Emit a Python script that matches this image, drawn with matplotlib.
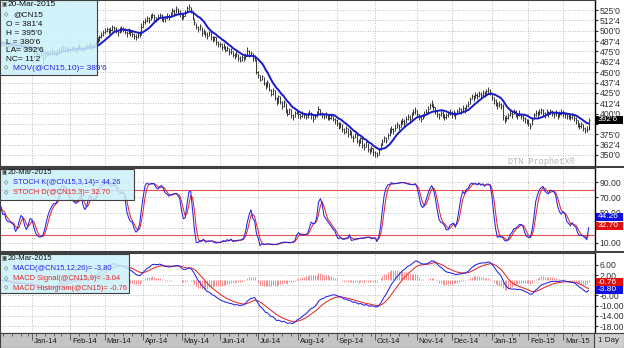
import numpy as np
import pandas as pd
import matplotlib
matplotlib.use("Agg")
import matplotlib.pyplot as plt
import matplotlib.transforms as mtransforms
from matplotlib.patches import Rectangle
from matplotlib.ticker import FuncFormatter

plt.rcParams["font.family"] = ["Liberation Sans", "DejaVu Sans"]

# CN15 daily bars (high / low / close), one list per month
hi_dec13 = [489, 488, 487, 486, 485, 486, 485, 483, 482, 484, 486, 485, 483, 481, 482, 484, 483]
lo_dec13 = [482, 481, 481, 480, 479, 480, 478, 477, 476, 477, 479, 479, 477, 475, 476, 477, 477]
cl_dec13 = [486, 484, 485, 483, 482, 484, 481, 480, 479, 481, 483, 482, 480, 478, 479, 481, 480]

hi_jan14 = [481, 479, 477, 475, 473, 474, 473, 473, 476, 475, 477, 479, 477, 475, 478, 480, 481, 483, 481, 479, 481]
lo_jan14 = [475, 472, 471, 469, 467, 468, 460, 466, 469, 469, 471, 473, 471, 469, 471, 474, 475, 477, 475, 473, 475]
cl_jan14 = [478, 475, 474, 472, 470, 471, 466, 470, 473, 472, 474, 476, 474, 472, 475, 477, 478, 480, 478, 476, 478]

hi_feb14 = [480, 482, 481, 479, 483, 484, 482, 480, 483, 485, 484, 486, 484, 485, 489, 492, 495, 498, 501]
lo_feb14 = [474, 475, 475, 473, 476, 478, 476, 474, 477, 478, 478, 479, 477, 479, 481, 485, 488, 491, 494]
cl_feb14 = [477, 479, 478, 476, 480, 481, 479, 477, 480, 482, 481, 483, 480, 482, 486, 489, 492, 495, 498]

hi_mar14 = [503, 505, 503, 504, 507, 506, 504, 501, 504, 506, 505, 503, 500, 503, 501, 499, 497, 496, 498, 500, 509]
lo_mar14 = [496, 498, 496, 497, 500, 500, 497, 494, 497, 499, 499, 496, 493, 496, 494, 492, 490, 489, 491, 493, 495]
cl_mar14 = [500, 502, 499, 501, 504, 503, 500, 498, 501, 503, 502, 499, 497, 500, 498, 496, 494, 493, 495, 497, 505]

hi_apr14 = [513, 515, 518, 516, 520, 522, 520, 517, 520, 522, 520, 517, 518, 521, 520, 523, 528, 526, 530, 528, 525]
lo_apr14 = [505, 508, 511, 509, 513, 515, 512, 510, 513, 515, 512, 510, 511, 514, 513, 516, 520, 518, 522, 520, 517]
cl_apr14 = [510, 512, 515, 513, 517, 519, 516, 514, 517, 519, 516, 514, 515, 518, 517, 520, 524, 522, 526, 524, 521]

hi_may14 = [521, 521, 525, 530, 532, 529, 524, 514, 509, 506, 508, 505, 502, 500, 498, 500, 498, 494, 494, 492, 488]
lo_may14 = [513, 514, 518, 523, 525, 521, 513, 507, 502, 499, 501, 494, 496, 492, 490, 494, 489, 486, 488, 483, 480]
cl_may14 = [516, 518, 522, 527, 529, 525, 515, 510, 505, 502, 506, 497, 500, 496, 494, 498, 493, 490, 492, 486, 484]

hi_jun14 = [487, 485, 485, 482, 482, 479, 479, 476, 473, 475, 472, 469, 471, 470, 473, 480, 477, 476, 473, 471, 466]
lo_jun14 = [480, 477, 478, 474, 475, 471, 472, 468, 466, 468, 464, 462, 464, 463, 466, 470, 468, 469, 464, 464, 448]
cl_jun14 = [484, 480, 482, 477, 479, 474, 476, 471, 469, 472, 467, 465, 468, 466, 470, 476, 471, 473, 467, 468, 450]

hi_jul14 = [451, 447, 447, 444, 438, 440, 437, 430, 431, 428, 420, 423, 421, 415, 416, 413, 405, 407, 405, 400, 403, 406]
lo_jul14 = [443, 439, 440, 435, 430, 432, 427, 421, 423, 416, 410, 413, 411, 406, 408, 401, 397, 400, 395, 392, 396, 399]
cl_jul14 = [446, 441, 445, 437, 433, 438, 429, 424, 429, 419, 413, 421, 414, 409, 414, 404, 400, 405, 398, 396, 401, 403]

hi_aug14 = [403, 400, 403, 401, 399, 402, 404, 402, 398, 400, 403, 409, 406, 402, 400, 402, 399, 398, 400, 397, 395]
lo_aug14 = [395, 394, 396, 395, 393, 395, 398, 394, 390, 393, 396, 400, 398, 395, 394, 395, 392, 392, 393, 391, 388]
cl_aug14 = [399, 397, 400, 398, 396, 399, 401, 398, 394, 397, 400, 406, 401, 398, 397, 399, 396, 395, 397, 394, 392]

hi_sep14 = [393, 390, 390, 388, 383, 385, 383, 381, 379, 374, 377, 375, 369, 372, 370, 364, 367, 365, 359, 361, 358]
lo_sep14 = [385, 381, 383, 378, 375, 377, 372, 374, 370, 366, 370, 364, 361, 365, 359, 356, 360, 354, 351, 354, 349]
cl_sep14 = [389, 384, 388, 381, 378, 383, 375, 379, 372, 370, 375, 367, 365, 370, 362, 360, 366, 357, 355, 359, 353]

hi_oct14 = [355, 354, 359, 365, 369, 373, 372, 377, 382, 385, 383, 387, 390, 388, 392, 395, 393, 397, 400, 398, 402, 406, 408]
lo_oct14 = [348, 347, 350, 356, 362, 366, 364, 369, 373, 377, 375, 379, 382, 380, 384, 387, 385, 389, 392, 390, 394, 398, 400]
cl_oct14 = [352, 350, 356, 362, 366, 370, 368, 374, 378, 381, 379, 383, 386, 384, 388, 391, 389, 393, 396, 394, 398, 402, 404]

hi_nov14 = [404, 400, 398, 400, 403, 405, 409, 413, 416, 412, 408, 404, 401, 404, 403, 399, 401, 403, 405]
lo_nov14 = [396, 392, 390, 393, 396, 398, 401, 405, 408, 404, 400, 396, 394, 397, 395, 392, 394, 396, 398]
cl_nov14 = [399, 396, 394, 397, 400, 402, 405, 410, 412, 408, 404, 400, 398, 401, 399, 396, 398, 400, 402]

hi_dec14 = [403, 404, 402, 406, 408, 407, 410, 408, 412, 415, 420, 424, 423, 426, 425, 427, 426, 428, 427, 430, 432, 430]
lo_dec14 = [395, 397, 394, 399, 401, 400, 403, 401, 405, 408, 412, 417, 415, 419, 418, 420, 419, 421, 420, 423, 425, 422]
cl_dec14 = [399, 401, 398, 403, 405, 403, 407, 405, 409, 412, 417, 421, 419, 423, 421, 424, 422, 425, 423, 427, 429, 426]

hi_jan15 = [425, 420, 417, 414, 415, 413, 411, 397, 398, 401, 404, 403, 406, 404, 401, 404, 401, 398, 396, 394]
lo_jan15 = [416, 412, 409, 406, 408, 405, 392, 389, 391, 394, 397, 395, 399, 396, 394, 397, 393, 391, 389, 387]
cl_jan15 = [420, 416, 413, 410, 412, 409, 398, 393, 395, 398, 401, 399, 403, 400, 398, 401, 397, 395, 393, 391]

hi_feb15 = [393, 389, 395, 401, 404, 403, 405, 407, 405, 402, 405, 403, 406, 404, 402, 404, 401, 403, 405]
lo_feb15 = [385, 381, 386, 393, 397, 396, 398, 400, 397, 395, 398, 396, 399, 397, 395, 397, 394, 396, 398]
cl_feb15 = [389, 385, 392, 398, 401, 399, 402, 404, 401, 399, 402, 400, 403, 401, 399, 401, 398, 400, 402]

hi_mar15 = [404, 402, 401, 401, 400, 401, 399, 396, 392, 389, 390, 387, 384, 385, 395]
lo_mar15 = [396, 395, 393, 394, 392, 394, 391, 388, 384, 381, 383, 379, 377, 378, 380.75]
cl_mar15 = [400, 399, 397, 398, 396, 398, 395, 392, 388, 385, 387, 383, 380, 381.5, 392.75]

holidays = ["2013-12-25", "2014-01-01", "2014-01-20", "2014-02-17", "2014-04-18",
            "2014-05-26", "2014-07-04", "2014-09-01", "2014-11-27", "2014-12-25",
            "2015-01-01", "2015-01-19", "2015-02-16"]

price_ticks = [350, 362.5, 375, 387.5, 400, 412.5, 425, 437.5, 450, 462.5, 475, 487.5, 500, 512.5, 525]
stoch_ticks = [10, 30, 50, 70, 90]
stoch_bands = [20, 80]
macd_ticks = [-18, -14, -10, -6, -2, 2, 6]
# tick labels that sit under the last-value boxes in the reference
hidden_ticks = [387.5, 30, -2]

top_legend = ["@CN15", "O = 381'4", "H = 395'0", "L = 380'6", "LA= 392'6", "NC= 11'2"]
mov_label = "MOV(@CN15,10)= 389'6"
last_price = "392'6"
stoch_labels = ["STOCH K(@CN15,3,14)= 44.26", "STOCH D(@CN15,3)= 32.70"]
stoch_last = [44.26, 32.70]
macd_labels = ["MACD(@CN15,12,26)= -3.80", "MACD Signal(@CN15,9)= -3.04", "MACD Histogram(@CN15)= -0.76"]
macd_last = [-3.80, -3.04, -0.76]

months = ["dec13", "jan14", "feb14", "mar14", "apr14", "may14", "jun14", "jul14",
          "aug14", "sep14", "oct14", "nov14", "dec14", "jan15", "feb15", "mar15"]
g = globals()
highs = np.array(sum([g["hi_" + m] for m in months], []), dtype=float)
lows = np.array(sum([g["lo_" + m] for m in months], []), dtype=float)
closes = np.array(sum([g["cl_" + m] for m in months], []), dtype=float)

dates = pd.bdate_range("2013-12-06", "2015-03-20", freq="C", holidays=holidays)
x = np.arange(len(dates))

# indicators
c = pd.Series(closes)
ma10 = c.rolling(10, min_periods=1).mean()
hh = pd.Series(highs).rolling(14, min_periods=1).max()
ll = pd.Series(lows).rolling(14, min_periods=1).min()
fast_k = 100 * (c - ll) / (hh - ll)
stoch_k = fast_k.rolling(3, min_periods=1).mean()
stoch_d = stoch_k.rolling(3, min_periods=1).mean()
macd = c.ewm(span=12, adjust=False).mean() - c.ewm(span=26, adjust=False).mean()
signal = macd.ewm(span=9, adjust=False).mean()
hist = macd - signal

W, H = 624, 348
BLUE = "#2424e6"
RED = "#e22a2a"
GRID = "#a8a8a8"


def box(y0, y1, x0=0, x1=595):
    return [x0 / W, 1 - y1 / H, (x1 - x0) / W, (y1 - y0) / H]


def fx(px):
    return px / W


def fy(py):
    return 1 - py / H


def eighths(p, pos=None):
    if any(abs(p - h) < 1e-6 for h in hidden_ticks):
        return ""
    whole = int(np.floor(p + 1e-9))
    return f"{whole}'{int(round((p - whole) * 8))}"


def two_dec(v, pos=None):
    if any(abs(v - h) < 1e-6 for h in hidden_ticks):
        return ""
    return f"{v:.2f}"


fig = plt.figure(figsize=(6.24, 3.48), dpi=100)
ax1 = fig.add_axes(box(0, 166))
ax2 = fig.add_axes(box(168, 251))
ax3 = fig.add_axes(box(253, 333))
ax4 = fig.add_axes(box(333, 348))

month_starts = [i for i in range(1, len(dates)) if dates[i].month != dates[i - 1].month]
week_starts = [i for i in range(1, len(dates)) if dates[i].weekday() < dates[i - 1].weekday()]

for ax, ticks in [(ax1, price_ticks), (ax2, stoch_ticks), (ax3, macd_ticks)]:
    ax.set_xlim(-0.5, 325.5)
    ax.set_xticks([])
    ax.yaxis.tick_right()
    ax.set_yticks(ticks)
    ax.tick_params(axis="y", labelsize=6.2, length=2, pad=1.5, colors="#303030")
    for t in ticks:
        ax.axhline(t, color=GRID, lw=0.6, ls=(0, (1, 2)), zorder=0)
    for m in month_starts:
        ax.axvline(m, color=GRID, lw=0.6, ls=(0, (1, 2)), zorder=0)
    for s in ax.spines.values():
        s.set_color("#404040")
        s.set_linewidth(0.8)
    ax.spines["right"].set_color("black")
    ax.spines["right"].set_linewidth(1.0)

# price panel
ax1.set_ylim(336.7, 537.1)
ax1.yaxis.set_major_formatter(FuncFormatter(eighths))
ax1.vlines(x, lows, highs, color="#363636", lw=0.7, zorder=2)
ax1.hlines(closes, x, x + 0.6, color="#363636", lw=0.7, zorder=2)
ax1.plot(x, ma10, color="#1a1acc", lw=1.4, zorder=3)

# stochastics panel
ax2.set_ylim(-0.5, 108.4)
ax2.yaxis.set_major_formatter(FuncFormatter(two_dec))
for b in stoch_bands:
    ax2.axhline(b, color="#e05050", lw=0.8, zorder=1)
ax2.plot(x, stoch_d, color=RED, lw=0.75, zorder=2)
ax2.plot(x, stoch_k, color=BLUE, lw=0.75, zorder=3)

# MACD panel
ax3.set_ylim(-20.75, 10.7)
ax3.yaxis.set_major_formatter(FuncFormatter(two_dec))
ax3.vlines(x, 0, hist, color="#f06060", lw=0.5, zorder=1)
ax3.plot(x, signal, color=RED, lw=0.75, zorder=2)
ax3.plot(x, macd, color=BLUE, lw=0.75, zorder=3)

# date strip
ax4.set_facecolor("#c4c4c4")
ax4.set_xlim(-0.5, 325.5)
ax4.set_ylim(0, 1)
ax4.set_yticks([])
ax4.set_xticks(month_starts)
ax4.set_xticks(week_starts, minor=True)
ax4.tick_params(axis="x", which="both", direction="in", top=True, bottom=False,
                labelbottom=False, colors="#505050", width=0.6)
ax4.tick_params(axis="x", which="major", length=5)
ax4.tick_params(axis="x", which="minor", length=2)
for s in ax4.spines.values():
    s.set_color("#404040")
    s.set_linewidth(0.8)
strip_tr = mtransforms.blended_transform_factory(ax4.transData, ax4.transAxes)
for m in month_starts:
    ax4.text(m + 1.0, 0.42, dates[m].strftime("%b-%y"), transform=strip_tr,
             fontsize=5.6, color="#202020", ha="left", va="center")

fig.patches.append(Rectangle((fx(594), fy(348)), 30 / W, 15 / H, transform=fig.transFigure,
                             fc="#cfcfcf", ec="#404040", lw=0.8))
fig.text(fx(609), fy(341), "1 Day", fontsize=5.8, ha="center", va="center", color="#202020")

# panel separators
for y0 in [166, 251]:
    fig.patches.append(Rectangle((0, fy(y0 + 2)), 1, 2 / H, transform=fig.transFigure,
                                 fc="#404040", ec="none"))

# legend boxes
LEG_FC = (0.80, 0.95, 0.98, 0.85)
fig.patches.append(Rectangle((0, fy(75)), 97 / W, 75 / H, transform=fig.transFigure,
                             fc=LEG_FC, ec="#404040", lw=0.8))
fig.patches.append(Rectangle((0, fy(200)), 134 / W, 31 / H, transform=fig.transFigure,
                             fc=LEG_FC, ec="#404040", lw=0.8))
fig.patches.append(Rectangle((0, fy(293)), 129 / W, 39 / H, transform=fig.transFigure,
                             fc=LEG_FC, ec="#404040", lw=0.8))

ICON = ["DejaVu Sans"]


def legend_title(ytop, fs):
    fig.text(fx(1), fy(ytop), "\u25a3", fontsize=4.0, family=ICON, va="center", color="#404040")
    fig.text(fx(8), fy(ytop), "20-Mar-2015", fontsize=fs, va="center", color="#101010")


def legend_row(ypos, label, color, fs, marker=True, xt=13):
    if marker:
        fig.text(fx(4), fy(ypos), "\u25c7", fontsize=4.0, family=ICON, va="center", color="#202020")
    fig.text(fx(xt), fy(ypos), label, fontsize=fs, va="center", color=color)


legend_title(5, 6.0)
legend_row(15, top_legend[0], "#101010", 6.0)
for k, lab in enumerate(top_legend[1:]):
    legend_row(24.5 + 8.8 * k, lab, "#101010", 6.0, marker=False, xt=6)
legend_row(68, mov_label, BLUE, 6.0)

legend_title(173, 5.6)
legend_row(183, stoch_labels[0], BLUE, 5.4)
legend_row(193, stoch_labels[1], RED, 5.4)

legend_title(259, 5.6)
legend_row(269, macd_labels[0], BLUE, 5.4)
legend_row(279, macd_labels[1], RED, 5.4)
legend_row(288, macd_labels[2], RED, 5.4)

# watermark
fig.text(fx(508), fy(161), "DTN ProphetX\u00ae", fontsize=6.2,
         family=["Liberation Mono", "DejaVu Sans Mono"], color="#b4b4b4", va="center")


# last-value boxes on the right scale
def value_box(ax, val, label, fc):
    ypix = ax.transData.transform((0, val))[1]
    fig.patches.append(Rectangle((fx(596), (ypix - 4) / H), 27 / W, 8 / H,
                                 transform=fig.transFigure, fc=fc, ec="none", zorder=5))
    fig.text(fx(598), ypix / H, label, fontsize=6.0, color="white", va="center", ha="left", zorder=6)


value_box(ax1, closes[-1], last_price, "black")
value_box(ax2, stoch_last[0], f"{stoch_last[0]:.2f}", "#1010e0")
value_box(ax2, stoch_last[1], f"{stoch_last[1]:.2f}", "#e01010")
value_box(ax3, macd_last[0], f"{macd_last[0]:.2f}", "#1010e0")
value_box(ax3, macd_last[2], f"{macd_last[2]:.2f}", "#e01010")

fig.savefig("out.png", dpi=100)
